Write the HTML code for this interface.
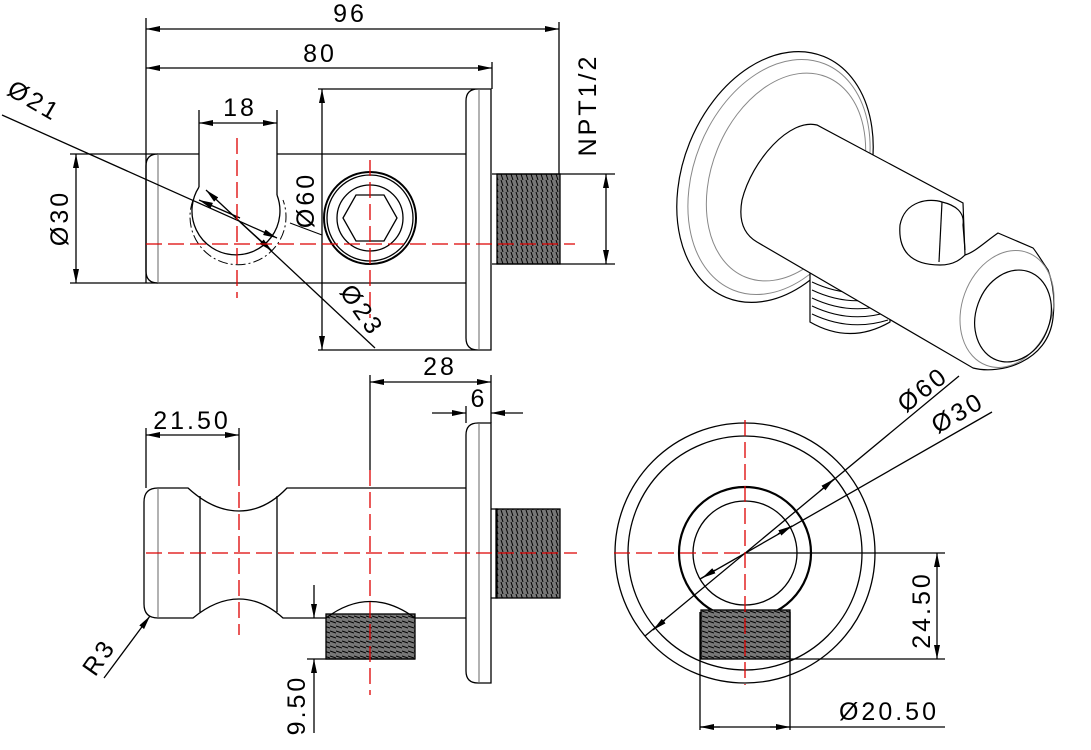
<!DOCTYPE html>
<html><head><meta charset="utf-8"><style>
html,body{margin:0;padding:0;background:#fff;}
svg{display:block;}
text{font-family:"Liberation Sans",sans-serif;font-size:25px;fill:#000;letter-spacing:3px;}
</style></head><body>
<svg width="1091" height="750" viewBox="0 0 1091 750" xmlns="http://www.w3.org/2000/svg">
<defs>
<marker id="a" viewBox="0 0 14 6" refX="14" refY="3" markerWidth="14" markerHeight="6" markerUnits="userSpaceOnUse" orient="auto"><path d="M0,0L14,3L0,6z" fill="#000"/></marker>
<marker id="s" viewBox="0 0 14 6" refX="0" refY="3" markerWidth="14" markerHeight="6" markerUnits="userSpaceOnUse" orient="auto"><path d="M14,0L0,3L14,6z" fill="#000"/></marker>
<pattern id="thv" width="5" height="6" patternUnits="userSpaceOnUse"><rect width="5" height="6" fill="#777"/><path d="M1,0L3,6" stroke="#000" stroke-width="1"/></pattern>
<pattern id="thh" width="6" height="5" patternUnits="userSpaceOnUse"><rect width="6" height="5" fill="#777"/><path d="M0,1L6,3" stroke="#000" stroke-width="1"/></pattern>
</defs>
<g fill="none" stroke="#000" stroke-width="1.3">
<!-- ===== TOP VIEW ===== -->
<line x1="146" y1="18" x2="146" y2="283"/>
<line x1="559" y1="22" x2="559" y2="174"/>
<line x1="492" y1="62" x2="492" y2="89"/>
<line x1="146" y1="29" x2="559" y2="29" marker-start="url(#s)" marker-end="url(#a)"/>
<line x1="146" y1="68" x2="492" y2="68" marker-start="url(#s)" marker-end="url(#a)"/>
<path d="M70,154H199M277,154H466M70,283H466"/>
<path d="M158,154Q146,154 146,166V271Q146,283 158,283"/>
<line x1="158" y1="154" x2="158" y2="283" stroke="#666" stroke-width="1"/>
<path d="M318,89H491V350H318M478,89Q466,89 466,101V338Q466,350 478,350"/>
<line x1="479" y1="89" x2="479" y2="350" stroke="#666" stroke-width="1"/>
<line x1="322" y1="89" x2="322" y2="350" marker-start="url(#s)" marker-end="url(#a)"/>
<rect x="497" y="174" width="63" height="90" fill="url(#thv)"/>
<path d="M492,174H615M492,264H615"/>
<line x1="606" y1="174" x2="606" y2="264" marker-start="url(#s)" marker-end="url(#a)"/>
<line x1="76" y1="154" x2="76" y2="283" marker-start="url(#s)" marker-end="url(#a)"/>
<path d="M199,110V187M277,110V195"/>
<line x1="199" y1="123" x2="277" y2="123" marker-start="url(#s)" marker-end="url(#a)"/>
<path d="M199,187A44,44 0 1 0 277,195"/>
<path d="M193,200A48,48 0 1 0 283,200" stroke-dasharray="10,3,2,3" stroke-width="1"/>
<ellipse cx="370" cy="218" rx="46" ry="46" stroke-width="2"/>
<ellipse cx="370" cy="218" rx="43" ry="43"/>
<circle cx="370" cy="218" r="33"/>
<path d="M343,218L356,195H384L397,218L384,241H356z"/>
<line x1="2" y1="115" x2="277" y2="238" marker-end="url(#a)"/>
<line x1="240" y1="218" x2="199" y2="200" marker-end="url(#a)"/>
<line x1="206" y1="190" x2="375" y2="348" marker-start="url(#s)"/>
<line x1="240" y1="222" x2="272" y2="251" marker-end="url(#a)"/>
<line x1="290" y1="223" x2="322" y2="235" stroke-width="1"/>
</g>
<g stroke="#d00" stroke-width="1.3" stroke-dasharray="16,6" fill="none">
<line x1="146" y1="244" x2="575" y2="244"/>
<line x1="237" y1="138" x2="237" y2="298"/>
<line x1="370" y1="160" x2="370" y2="318"/>
</g>
<text x="350" y="22" text-anchor="middle">96</text>
<text x="320" y="62" text-anchor="middle">80</text>
<text x="240" y="116" text-anchor="middle">18</text>
<text transform="translate(596,105) rotate(-90)" text-anchor="middle">NPT1/2</text>
<text transform="translate(68,218) rotate(-90)" text-anchor="middle">Ø30</text>
<text transform="translate(314,200) rotate(-90)" text-anchor="middle">Ø60</text>
<text transform="translate(30,108) rotate(30)" text-anchor="middle">Ø21</text>
<text transform="translate(355,315) rotate(55)" text-anchor="middle">Ø23</text>

<!-- ===== SIDE VIEW ===== -->
<g fill="none" stroke="#000" stroke-width="1.3">
<line x1="370" y1="375" x2="370" y2="470"/>
<line x1="491" y1="375" x2="491" y2="423"/>
<line x1="466" y1="406" x2="466" y2="423"/>
<line x1="370" y1="382" x2="491" y2="382" marker-start="url(#s)" marker-end="url(#a)"/>
<line x1="432" y1="413" x2="466" y2="413" marker-end="url(#a)"/>
<line x1="523" y1="413" x2="491" y2="413" marker-end="url(#a)"/>
<line x1="146" y1="428" x2="146" y2="488"/>
<line x1="239" y1="428" x2="239" y2="470"/>
<line x1="146" y1="435" x2="239" y2="435" marker-start="url(#s)" marker-end="url(#a)"/>
<path d="M158,488H188Q213,511 239,511Q265,511 287,488H466M158,618H193Q216,599 239,599Q262,599 283,618H326M415,618H466"/>
<path d="M158,488Q144,488 144,502V604Q144,618 158,618"/>
<line x1="158" y1="488" x2="158" y2="618" stroke="#666" stroke-width="1"/>
<path d="M200,496V612M277,496V612"/>
<path d="M478,423Q466,423 466,435V671Q466,683 478,683H491V423H478"/>
<line x1="479" y1="423" x2="479" y2="683" stroke="#666" stroke-width="1"/>
<rect x="496" y="509" width="64" height="89" fill="url(#thv)"/>
<path d="M491,509H497V598H491"/>
<rect x="326" y="614" width="89" height="45" fill="url(#thh)"/>
<path d="M326,618Q370,585 415,618"/>
<line x1="307" y1="659" x2="415" y2="659"/>
<line x1="314" y1="585" x2="314" y2="618" marker-end="url(#a)"/>
<line x1="314" y1="733" x2="314" y2="659" marker-end="url(#a)"/>
<line x1="104" y1="678" x2="150" y2="616" marker-end="url(#a)"/>
</g>
<g stroke="#d00" stroke-width="1.3" stroke-dasharray="16,6" fill="none">
<line x1="146" y1="553" x2="577" y2="553"/>
<line x1="239" y1="470" x2="239" y2="635"/>
<line x1="370" y1="470" x2="370" y2="695"/>
</g>
<text x="440" y="375" text-anchor="middle">28</text>
<text x="479" y="407" text-anchor="middle">6</text>
<text x="192" y="429" text-anchor="middle">21.50</text>
<text transform="translate(305,705) rotate(-90)" text-anchor="middle">9.50</text>
<text transform="translate(106,662) rotate(-55)" text-anchor="middle">R3</text>

<!-- ===== FRONT VIEW ===== -->
<g fill="none" stroke="#000" stroke-width="1.3">
<circle cx="745" cy="553" r="130"/>
<circle cx="745" cy="553" r="117"/>
<circle cx="745" cy="553" r="66" stroke-width="2.2"/>
<circle cx="745" cy="553" r="52"/>
<rect x="701" y="610" width="89" height="49" fill="url(#thh)"/>
<path d="M700,612V730M790,612V730"/>
<path d="M745,553H945M790,659H945"/>
<line x1="937" y1="553" x2="937" y2="659" marker-start="url(#s)" marker-end="url(#a)"/>
<line x1="700" y1="727" x2="945" y2="727"/>
<line x1="720" y1="727" x2="700" y2="727" marker-end="url(#a)"/>
<line x1="770" y1="727" x2="790" y2="727" marker-end="url(#a)"/>
<line x1="645" y1="636" x2="959" y2="376"/>
<line x1="665" y1="620" x2="653" y2="630" marker-end="url(#a)"/>
<line x1="820" y1="491" x2="834" y2="479" marker-end="url(#a)"/>
<line x1="700" y1="579" x2="992" y2="412"/>
<line x1="715" y1="570" x2="702" y2="578" marker-end="url(#a)"/>
<line x1="778" y1="534" x2="792" y2="526" marker-end="url(#a)"/>
</g>
<g stroke="#d00" stroke-width="1.3" stroke-dasharray="16,6" fill="none">
<line x1="614" y1="553" x2="745" y2="553"/>
<line x1="745" y1="420" x2="745" y2="685"/>
</g>
<text x="889" y="720" text-anchor="middle">Ø20.50</text>
<text transform="translate(930,610) rotate(-90)" text-anchor="middle">24.50</text>
<text transform="translate(928,396) rotate(-38)" text-anchor="middle">Ø60</text>
<text transform="translate(962,420) rotate(-30)" text-anchor="middle">Ø30</text>

<!-- ===== ISOMETRIC ===== -->
<g fill="none" stroke="#000" stroke-width="1.2">
<path d="M706,118Q692,138 688,168" stroke-width="3"/>
<ellipse cx="775" cy="177" rx="92" ry="130" transform="rotate(22 775 177)" fill="#fff"/>
<ellipse cx="779" cy="177" rx="85" ry="122" transform="rotate(22 779 177)" stroke="#888" stroke-width="1"/>
<ellipse cx="786" cy="177" rx="74" ry="108" transform="rotate(22 786 177)" stroke="#888" stroke-width="1"/>
<path d="M810,273V322Q850,345 890,322V300" fill="#fff"/>
<path d="M812,282Q850,300 888,288M812,290Q850,308 888,296M812,298Q850,316 888,304M812,306Q850,324 888,312M812,314Q850,332 888,320" stroke-width="1"/>
<path d="M757,242L973,368C1000,375 1048,362 1053,318C1056,290 1050,276 1048,270C1040,258 1035,250 1033,248L998,233C985,242 975,252 965,255L963,203L817,125C790,118 752,160 742,200C738,222 745,235 757,242Z" fill="#fff"/>
<path d="M942,202C930,198 905,200 900,225C898,250 910,265 940,265C955,265 962,258 965,255"/>
<path d="M942,202C955,205 965,212 963,225L965,250"/>
<path d="M942,202L939,262"/>
<ellipse cx="1007" cy="309" rx="45" ry="60" transform="rotate(20 1007 309)" stroke="#888" stroke-width="1"/>
<ellipse cx="1013" cy="316" rx="37" ry="47" transform="rotate(20 1013 316)"/>
</g>
</svg>
</body></html>
